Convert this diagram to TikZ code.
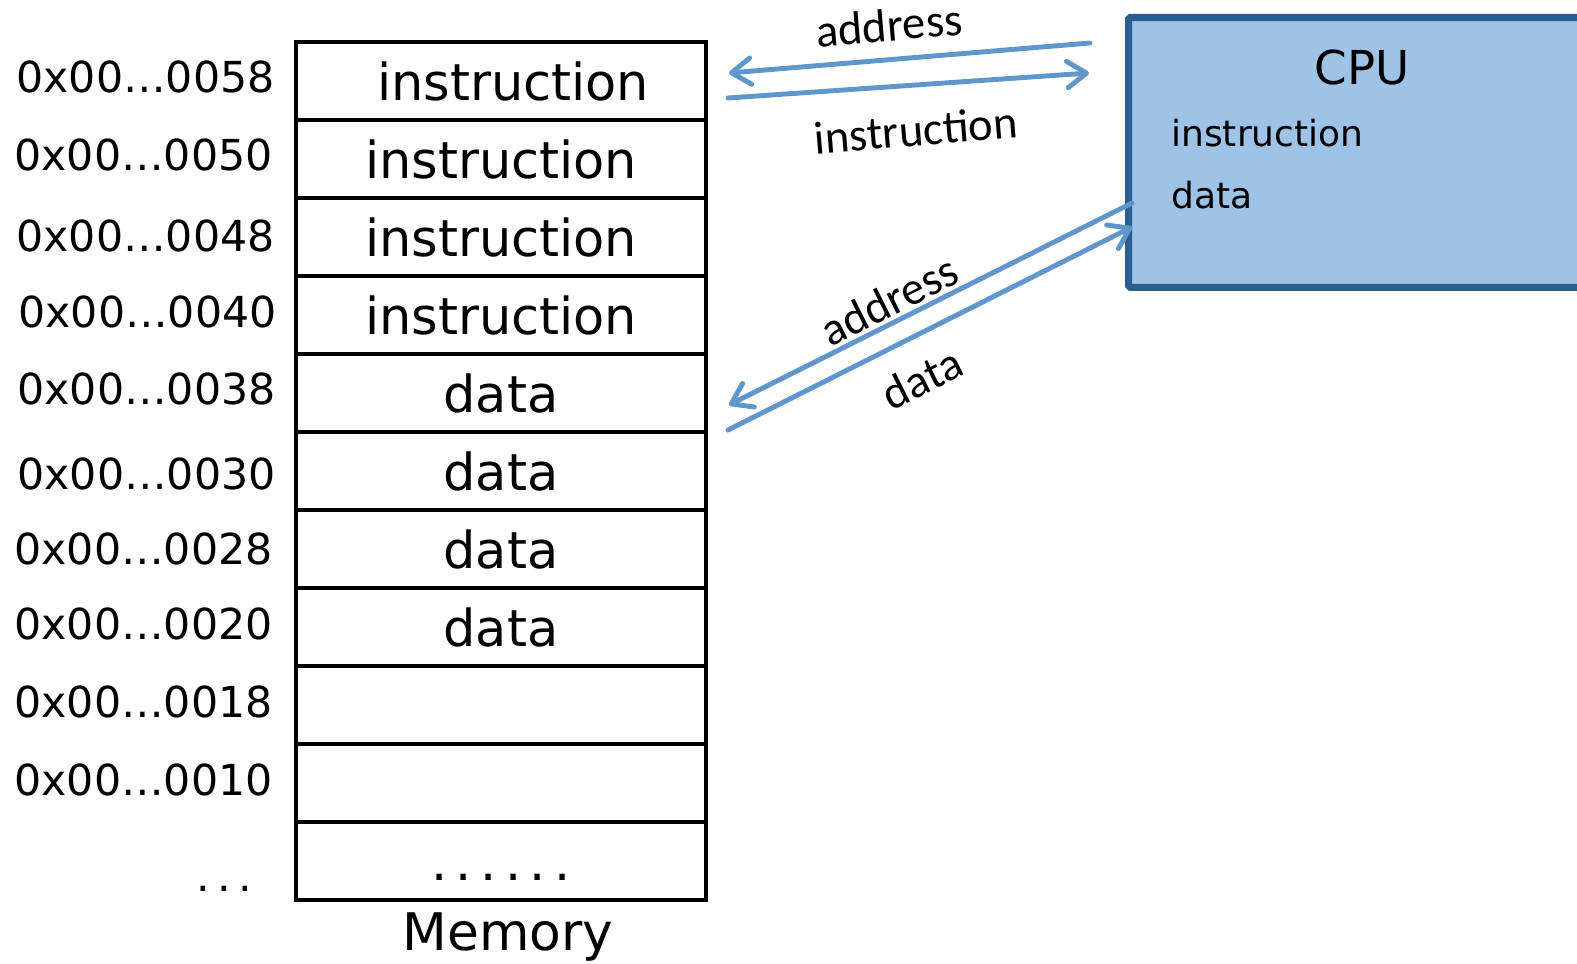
\documentclass[tikz,border=0pt]{standalone}
\usepackage{fontspec}
\setmainfont{DejaVu Sans}
\newfontfamily\busfont{Carlito}
\usetikzlibrary{positioning,arrows.meta}
\definecolor{cpufill}{RGB}{158,195,231}
\definecolor{cpuedge}{RGB}{42,94,145}
\definecolor{busblue}{RGB}{95,151,205}

\begin{document}
\begin{tikzpicture}[x=0.02cm,y=-0.02cm,node distance=1.56cm,on grid,
        cell/.style={draw,line width=2.6pt,minimum width=8.2cm,minimum height=1.56cm,
          text height=25pt,text depth=3pt,font=\fontsize{29}{30}\selectfont},
        addr/.style={anchor=east,inner sep=0pt,text height=18pt,text depth=5pt,
          font=\fontsize{24.3}{26}\selectfont},
        cpubox/.style={draw=cpuedge,fill=cpufill,line width=4pt,rounded corners=1pt,
          anchor=north west,minimum width=9.9cm,minimum height=5.4cm},
        bus/.style={busblue,line width=2.8pt,line cap=round,
          -{Straight Barb[length=11pt,width=15pt,round]}},
        buslabel/.style={font=\busfont\fontsize{26.5}{28}\selectfont}]
      \useasboundingbox (0,0) rectangle (1577,963);
      % memory
      \node[cell] (m0) at (501,81) {\hspace{14pt}instruction};
      \node[cell] (m1) [below=of m0] {instruction};
      \node[cell] (m2) [below=of m1] {instruction};
      \node[cell] (m3) [below=of m2] {instruction};
      \node[cell] (m4) [below=of m3] {data};
      \node[cell] (m5) [below=of m4] {data};
      \node[cell] (m6) [below=of m5] {data};
      \node[cell] (m7) [below=of m6] {data};
      \node[cell] (m8) [below=of m7] {};
      \node[cell] (m9) [below=of m8] {};
      \node[cell] (m10) [below=of m9] {.\,.\,.\,.\,.\,.};
      \node[anchor=base,font=\fontsize{29.5}{31}\selectfont] (mem) at (508,950) {Memory};
      % addresses
      \node[addr] (l0) at (275,81) {0x00…0058};
      \node[addr] (l1) at (273,159) {0x00…0050};
      \node[addr] (l2) at (275,240) {0x00…0048};
      \node[addr] (l3) at (277,316) {0x00…0040};
      \node[addr] (l4) at (276,393) {0x00…0038};
      \node[addr] (l5) at (276,478) {0x00…0030};
      \node[addr] (l6) at (273,553) {0x00…0028};
      \node[addr] (l7) at (273,628) {0x00…0020};
      \node[addr] (l8) at (273,706) {0x00…0018};
      \node[addr] (l9) at (273,784) {0x00…0010};
      \node[addr] (l10) at (252,880) {.\,.\,.};
      % cpu
      \node[cpubox] (cpu) at (1125,14) {};
      \node[font=\fontsize{26.6}{28}\selectfont] (cpuname) at (1362,67) {CPU};
      \node[anchor=base west,inner sep=0pt,font=\fontsize{20.5}{22}\selectfont]
        (cpuins) at (1171,146) {instruction};
      \node[anchor=base west,inner sep=0pt,font=\fontsize{20.5}{22}\selectfont]
        (cpudat) at (1171,208) {data};
      % buses
      \coordinate (ia) at (1090,43);
      \coordinate (ma) at (729,73);
      \coordinate (mi) at (728,98);
      \coordinate (ci) at (1089,73);
      \coordinate (da) at (1132,203);
      \coordinate (md) at (729,405);
      \coordinate (mdd) at (728,430);
      \coordinate (dd) at (1132,227);
      \draw[bus] (ia) -- (ma);
      \draw[bus] (mi) -- (ci);
      \draw[bus] (da) -- (md);
      \draw[bus] (mdd) -- (dd);
      \node[buslabel,rotate=4.75] (la) at (889,25) {address};
      \node[buslabel,rotate=4.75] (li) at (916,130) {instruction};
      \node[buslabel,rotate=26.6] (lda) at (889,300) {address};
      \node[buslabel,rotate=26.6] (ld) at (922,378) {data};
    \end{tikzpicture}
\end{document}
